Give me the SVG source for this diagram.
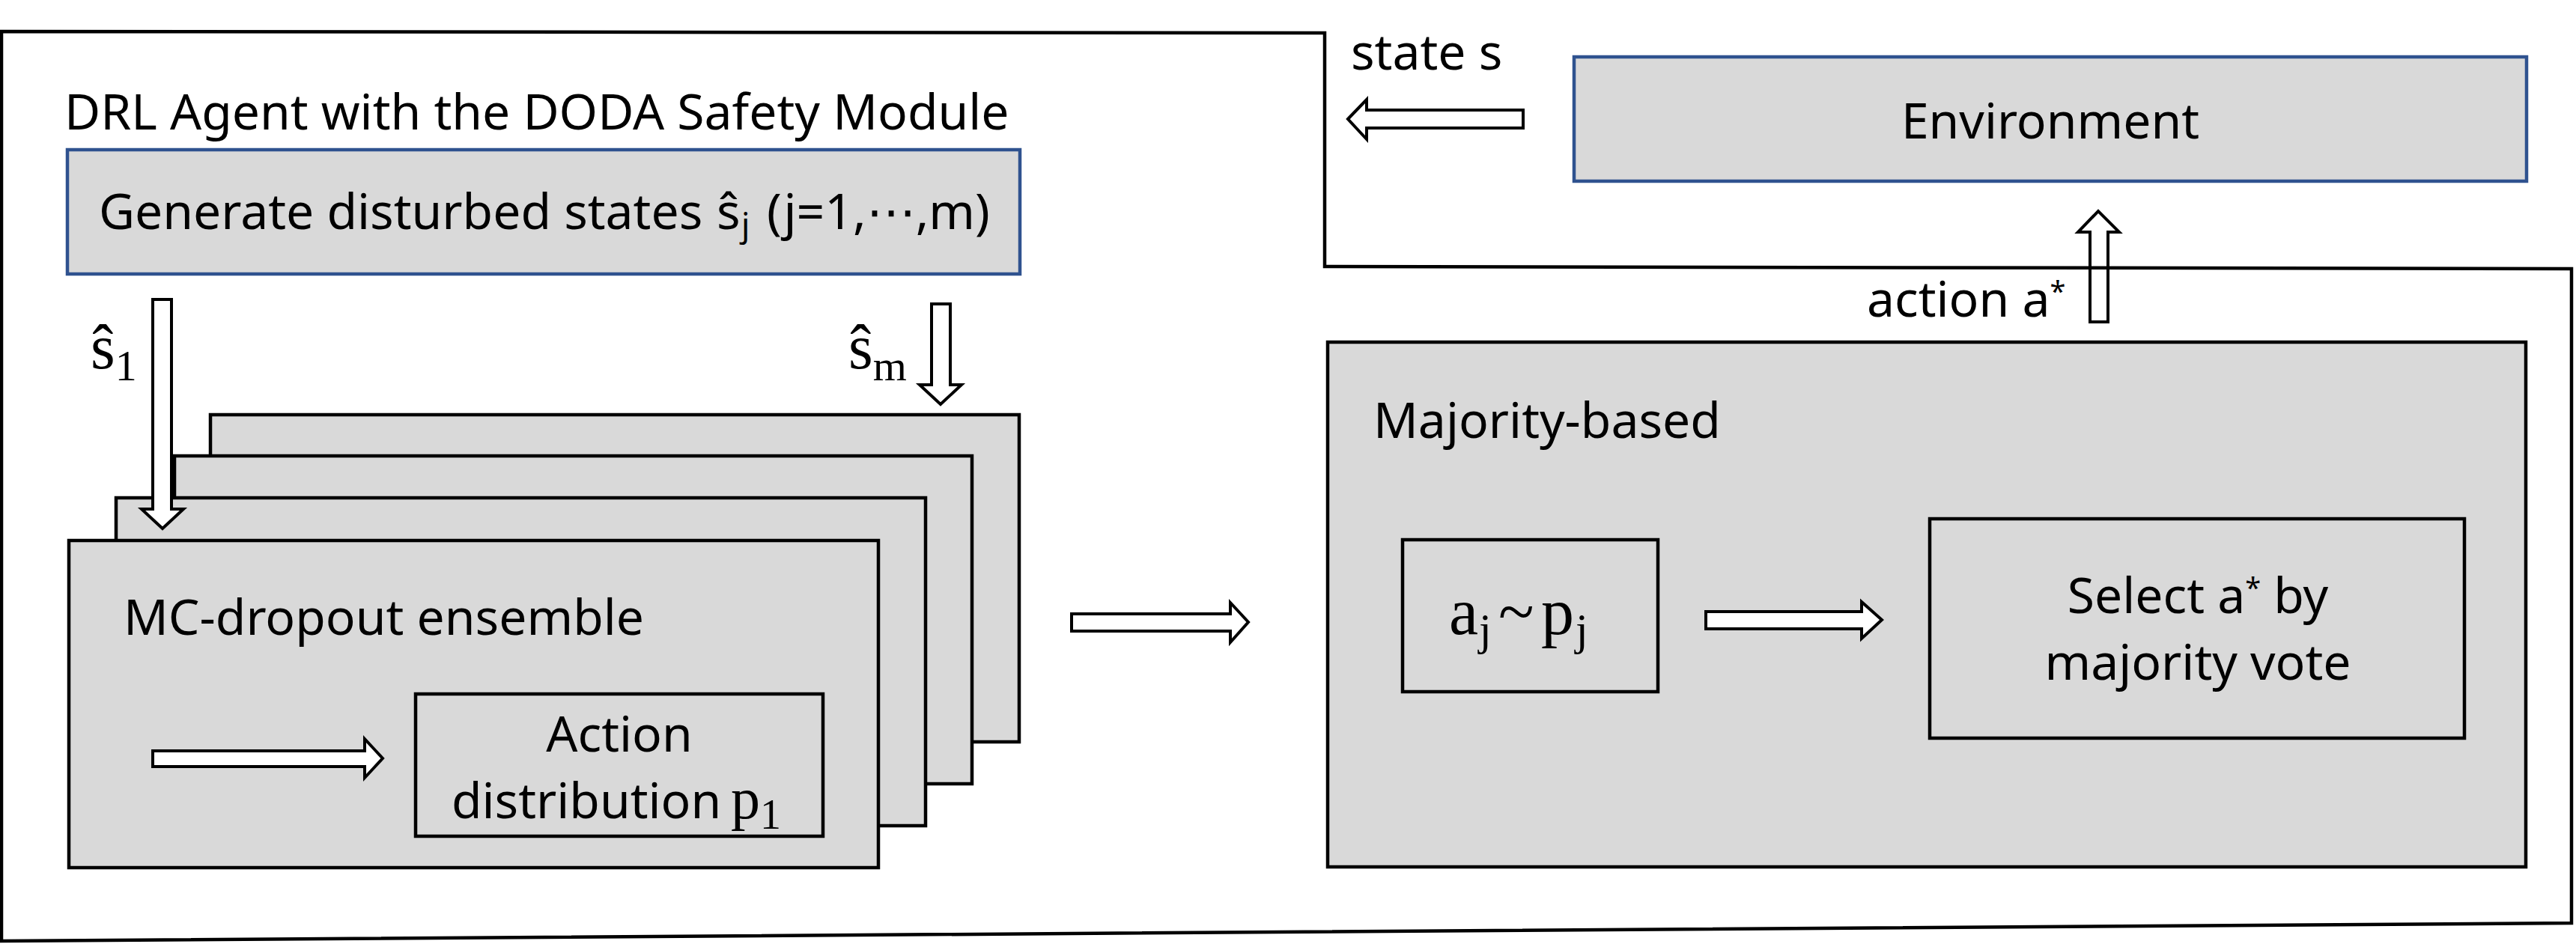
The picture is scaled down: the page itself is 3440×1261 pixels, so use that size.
<svg xmlns="http://www.w3.org/2000/svg" width="3440" height="1261" viewBox="0 0 3440 1261">
<style>
.t{font-family:'Noto Sans','Liberation Sans','DejaVu Sans',sans-serif;font-size:66px;fill:#000}
.m{font-family:'Liberation Serif','DejaVu Serif',serif;fill:#000}
.blue{fill:#D9D9D9;stroke:#2F528F;stroke-width:4.5}
.box{fill:#D9D9D9;stroke:#000;stroke-width:4.5}
.arr{fill:#fff;stroke:#000;stroke-width:4;stroke-linejoin:miter}
.outer{fill:none;stroke:#000;stroke-width:4.5}
</style>
<rect x="0" y="0" width="3440" height="1261" fill="#fff"/>

<g id="agent-title">
<text class="t" x="86" y="173">DRL Agent with the DODA Safety Module</text>
</g>

<g id="generate">
<rect class="blue" x="90" y="200" width="1272" height="166"/>
<text class="t" x="132" y="306">Generate disturbed states <tspan x="957">ŝ</tspan><tspan x="990" dy="10" font-size="44">j</tspan><tspan x="1024" dy="-10">(j=1,⋯,m)</tspan></text>
</g>

<g id="environment">
<rect class="blue" x="2102" y="76" width="1272" height="166"/>
<text class="t" x="2738" y="185" text-anchor="middle">Environment</text>
</g>

<g id="ensemble-stack">
<rect class="box" x="281" y="554" width="1080" height="437"/>
<rect class="box" x="233" y="609" width="1065" height="438"/>
<rect class="box" x="155" y="665" width="1081" height="438"/>
<rect class="box" x="92" y="722" width="1081" height="437"/>
<text class="t" x="165" y="848">MC-dropout ensemble</text>
</g>

<g id="action-distribution">
<rect class="box" x="555" y="927" width="544" height="190" stroke-width="4"/>
<text class="t" x="827" y="1004" text-anchor="middle">Action</text>
<text class="t" x="603" y="1093">distribution<tspan class="m" x="976" font-size="78">p</tspan><tspan class="m" x="1015" dy="14" font-size="56">1</tspan></text>
</g>

<g id="majority">
<rect class="box" x="1773" y="457" width="1600" height="701"/>
<text class="t" x="1834" y="585">Majority-based</text>
</g>

<g id="sample">
<rect class="box" x="1873" y="721" width="341" height="203"/>
<text class="m" y="847" font-size="88"><tspan x="1935">a</tspan><tspan x="1975" dy="14" font-size="60">j</tspan><tspan x="2001" dy="-14">~</tspan><tspan x="2058">p</tspan><tspan x="2104" dy="14" font-size="60">j</tspan></text>
</g>

<g id="select">
<rect class="box" x="2577" y="693" width="714" height="293"/>
<text class="t" x="2935" y="819" text-anchor="middle">Select a<tspan font-size="38" dy="-20">*</tspan><tspan dy="20"> by</tspan></text>
<text class="t" x="2935" y="908" text-anchor="middle">majority vote</text>
</g>

<g id="connectors">
<polygon class="arr" points="204,400 229,400 229,680 245,680 217,706 189,680 204,680"/>
<text class="m" x="121" y="492" font-size="84">ŝ<tspan dy="16" font-size="58">1</tspan></text>
<polygon class="arr" points="1244,406 1269,406 1269,514 1284,514 1256,540 1228,514 1244,514"/>
<text class="m" x="1133" y="492" font-size="84">ŝ<tspan dy="16" font-size="58">m</tspan></text>
<polygon class="arr" points="204,1003 487,1003 487,987 511,1013 487,1039 487,1024 204,1024"/>
<polygon class="arr" points="1431,820 1643,820 1643,805 1667,831 1643,858 1643,843 1431,843"/>
<polygon class="arr" points="2278,817 2486,817 2486,804 2513,828 2486,853 2486,840 2278,840"/>
<polygon class="arr" points="1800,159 1825,133 1825,147 2034,147 2034,171 1825,171 1825,186"/>
<text class="t" x="1804" y="93">state s</text>
<polygon class="arr" points="2791,430 2815,430 2815,310 2830,310 2802,282 2775,310 2791,310"/>
<text class="t" x="2493" y="423">action a<tspan font-size="38" dy="-20">*</tspan></text>
</g>

<g id="agent-boundary">
<polygon class="outer" points="2,42 1769,44 1769,356 3434,359 3434,1233 2,1257"/>
</g>
</svg>
